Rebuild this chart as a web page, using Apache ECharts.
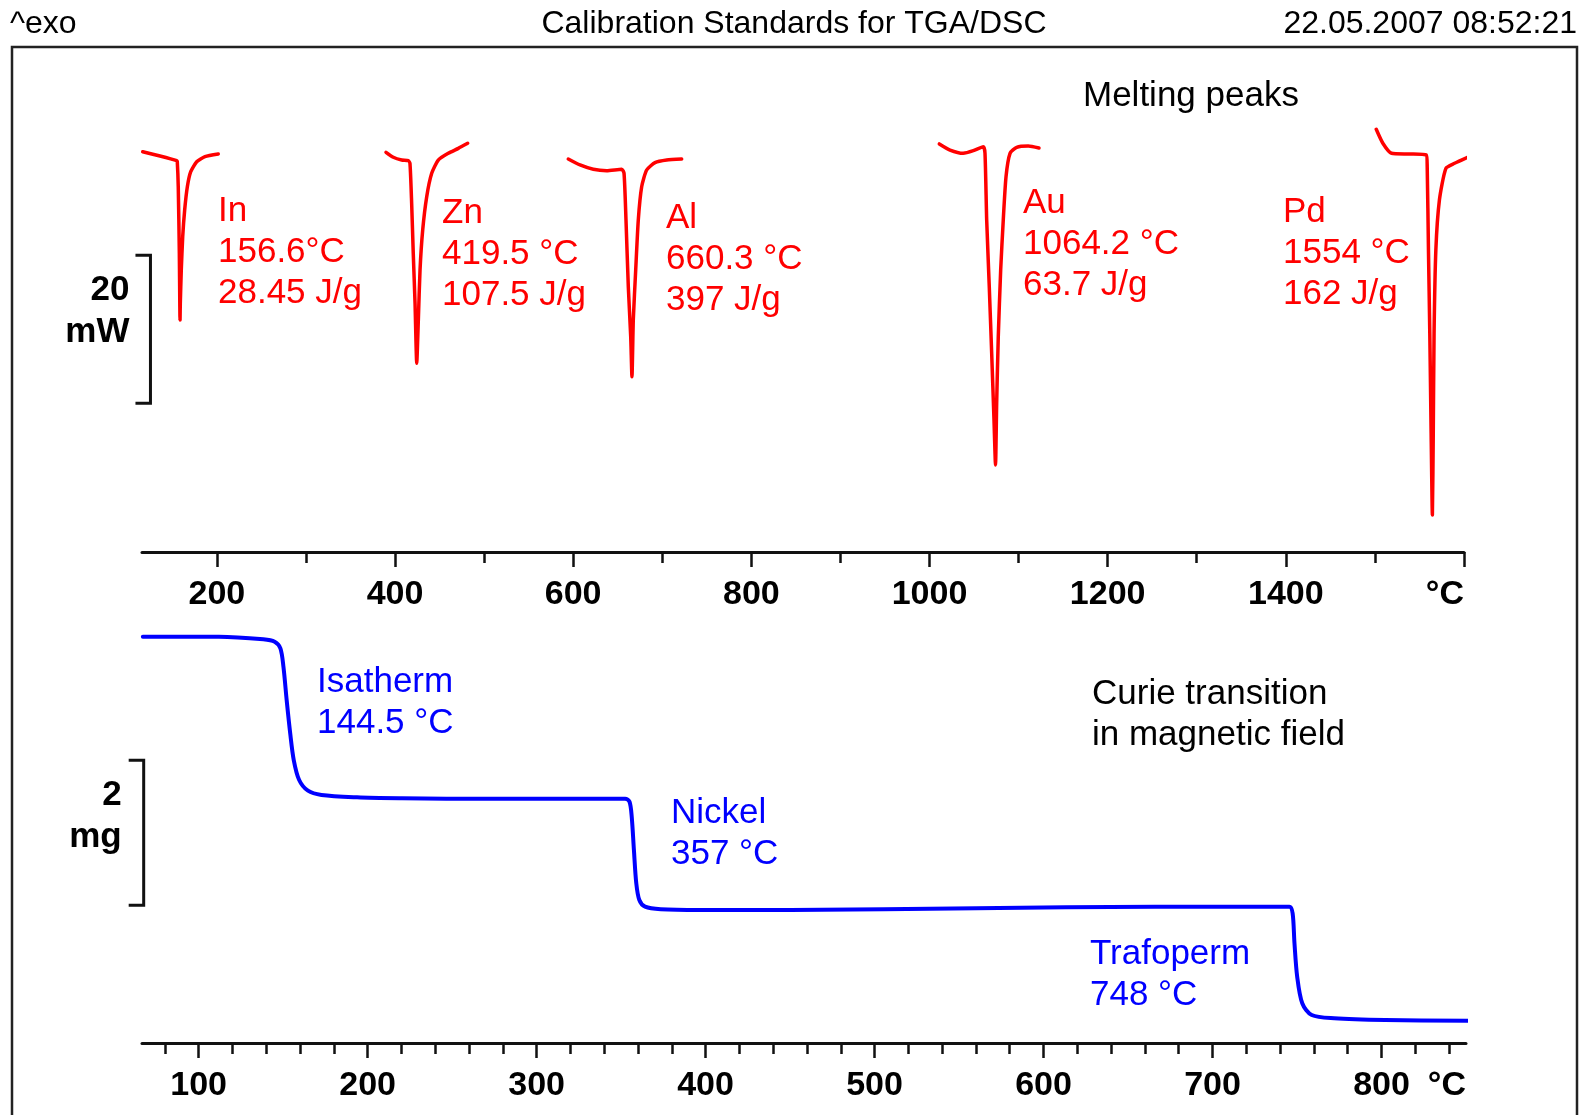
<!DOCTYPE html>
<html>
<head>
<meta charset="utf-8">
<title>Calibration Standards for TGA/DSC</title>
<script src="https://cdn.jsdelivr.net/npm/echarts@6/dist/echarts.min.js"></script>
<style>
  html, body { margin: 0; padding: 0; background: #fff; }
  #chart { width: 1582px; height: 1115px; }
</style>
</head>
<body>
<div id="chart"></div>
<script>
// ---- DSC melting peaks: [temperature °C, heat flow mW] ----
const dscIn = [[116.8,-5.91],[136.2,-6.49],[155.0,-7.12],[155.6,-7.26],[156.7,-10.64],[157.9,-19.59],[158.7,-28.65],[159.0,-26.4],[160.1,-21.9],[161.7,-17.39],[163.9,-13.78],[166.9,-10.64],[170.7,-8.61],[177.4,-7.26],[186.7,-6.58],[201.6,-6.22]];
const dscZn = [[389.9,-5.99],[398.1,-6.66],[407.5,-7.03],[414.9,-7.12],[416.8,-7.47],[418.7,-12.88],[420.5,-19.64],[422.5,-26.39],[424.4,-34.5],[426.2,-28.65],[428.1,-21.89],[431.1,-16.49],[435.6,-11.99],[441.2,-8.82],[448.6,-7.03],[459.8,-6.12],[471.1,-5.45],[481.6,-4.77]];
const dscAl = [[594.5,-6.89],[607.7,-7.70],[622.6,-8.28],[637.6,-8.47],[654.5,-8.28],[657.1,-8.82],[659.3,-15.14],[661.9,-24.15],[664.6,-30.91],[666.0,-36.31],[667.5,-28.65],[670.2,-21.89],[673.1,-15.14],[676.9,-10.64],[682.5,-8.38],[691.9,-7.39],[705.0,-7.03],[721.8,-6.89]];
const dscAu = [[1011.0,-4.86],[1023.0,-5.68],[1037.9,-6.12],[1049.2,-5.77],[1060.4,-5.23],[1062.3,-6.12],[1064.2,-15.14],[1067.1,-24.15],[1069.8,-33.15],[1072.4,-42.16],[1074.1,-48.24],[1075.4,-39.91],[1077.2,-30.91],[1079.9,-21.89],[1082.8,-15.14],[1085.9,-9.28],[1090.4,-6.12],[1097.9,-5.31],[1110.9,-5.14],[1122.9,-5.41]];
const dscPd = [[1501.5,-2.88],[1508.9,-4.77],[1518.6,-6.12],[1538.2,-6.22],[1557.7,-6.35],[1558.7,-7.93],[1560.1,-19.19],[1561.6,-30.45],[1563.1,-43.96],[1564.5,-55.0],[1565.5,-43.96],[1566.4,-30.45],[1568.4,-19.19],[1572.4,-12.43],[1579.7,-8.15],[1589.4,-7.47],[1604.0,-6.66]];

// ---- TGA Curie transitions: [temperature °C, mass mg] ----
const tgaMass = [[67.0,5.604],[112.0,5.604],[138.3,5.568],[145.0,5.535],[148.4,5.444],[150.2,5.190],[152.1,4.731],[154.2,4.272],[156.3,3.903],[159.5,3.628],[164.7,3.480],[172.7,3.421],[193.8,3.389],[220.3,3.375],[246.7,3.370],[299.5,3.370],[352.4,3.370],[355.0,3.328],[356.3,3.121],[357.6,2.662],[359.0,2.203],[360.8,1.972],[364.2,1.880],[373.5,1.844],[396.7,1.834],[450.5,1.834],[560.2,1.858],[666.0,1.880],[745.5,1.880],[747.4,1.789],[748.5,1.375],[750.1,0.915],[753.1,0.548],[758.7,0.386],[772.0,0.341],[802.2,0.317],[851.4,0.308]];

// ---- annotation texts ----
const peakNames = ['In', 'Zn', 'Al', 'Au', 'Pd'];
const peakOnsets = ['156.6°C', '419.5 °C', '660.3 °C', '1064.2 °C', '1554 °C'];
const peakEnthalpies = ['28.45 J/g', '107.5 J/g', '397 J/g', '63.7 J/g', '162 J/g'];
const curieNames = ['Isatherm', 'Nickel', 'Trafoperm'];
const curieTemps = ['144.5 °C', '357 °C', '748 °C'];

// ---- axis ticks ----
const dscMajorTicks = [200, 400, 600, 800, 1000, 1200, 1400, 1600];
const dscMinorTicks = [300, 500, 700, 900, 1100, 1300, 1500];
const dscTickLabels = [200, 400, 600, 800, 1000, 1200, 1400];
const tgaMajorTicks = [100, 200, 300, 400, 500, 600, 700, 800];
const tgaMinorTicks = [80, 120, 140, 160, 180, 220, 240, 260, 280, 320, 340, 360, 380, 420, 440, 460, 480, 520, 540, 560, 580, 620, 640, 660, 680, 720, 740, 760, 780, 820, 840];

// ---- scale bars: [x position °C, from, to] ----
const dscScaleBar = [125.5, -39.9, -19.9];   // 20 mW
const tgaScaleBar = [67.5, 1.9, 3.9];        // 2 mg

const FONT = '"Liberation Sans", Arial, Helvetica, sans-serif';
const RED = '#ff0000';
const BLUE = '#0000ff';
const INK = '#111111';

const chart = echarts.init(document.getElementById('chart'), null, { renderer: 'canvas' });

function majorAxis(gridIndex, min, max, ticks, labels) {
  return {
    type: 'value', gridIndex, min, max, position: 'bottom',
    axisLine: { show: true, onZero: false, lineStyle: { color: INK, width: 3 } },
    axisTick: { show: true, customValues: ticks, length: 15, lineStyle: { color: INK, width: 2.5 } },
    axisLabel: { show: true, customValues: labels, margin: 26, color: '#000',
      formatter: (v) => String(v),
      fontSize: 34, fontWeight: 'bold', fontFamily: FONT },
    splitLine: { show: false }
  };
}
function minorAxis(gridIndex, min, max, ticks, unitAt) {
  return {
    type: 'value', gridIndex, min, max, position: 'bottom', offset: 0,
    axisLine: { show: false, onZero: false },
    axisTick: { show: true, customValues: ticks, length: 11, lineStyle: { color: INK, width: 2.5 } },
    axisLabel: { show: true, customValues: [unitAt], formatter: () => '°C', align: 'right',
      margin: 26, color: '#000', fontSize: 34, fontWeight: 'bold', fontFamily: FONT },
    splitLine: { show: false }
  };
}

function scaleBar(xAxisIndex, yAxisIndex, bar, text, textDx) {
  return {
    type: 'custom', xAxisIndex, yAxisIndex, clip: false, silent: true, z: 5,
    data: [bar],
    renderItem(params, api) {
      const top = api.coord([api.value(0), api.value(2)]);
      const bot = api.coord([api.value(0), api.value(1)]);
      const serif = 15;
      return {
        type: 'group',
        children: [
          { type: 'polyline',
            shape: { points: [[top[0] - serif, top[1]], [top[0], top[1]], [bot[0], bot[1]], [bot[0] - serif, bot[1]]] },
            style: { stroke: INK, lineWidth: 3, fill: null, lineJoin: 'miter' } },
          { type: 'text', x: top[0] + textDx, y: top[1] + 14,
            style: { text, align: 'right', verticalAlign: 'top', lineHeight: 42,
              font: 'bold 35px ' + FONT, fill: '#000' } }
        ]
      };
    }
  };
}

function curve(data, color, width, xi, yi, smooth) {
  return {
    type: 'line', data, xAxisIndex: xi, yAxisIndex: yi, showSymbol: false, symbol: 'none',
    smooth, clip: false, silent: true,
    lineStyle: { color, width, cap: 'round', join: 'round' }
  };
}

// text placement (left x, top y of block)
const peakLabelPos = [[218, 191], [442, 193], [666, 198], [1023, 183], [1283, 192]];
const curieLabelPos = [[317, 662], [671, 793], [1090, 934]];

const graphics = [
  { type: 'rect', shape: { x: 12, y: 47, width: 1565, height: 1200 }, silent: true,
    style: { fill: null, stroke: '#222', lineWidth: 2.5 } },
  { type: 'text', x: 10, y: 24, silent: true,
    style: { text: '^exo', font: '32px ' + FONT, fill: '#000', verticalAlign: 'middle' } },
  { type: 'text', x: 794, y: 24, silent: true,
    style: { text: 'Calibration Standards for TGA/DSC', font: '32px ' + FONT, fill: '#000', align: 'center', verticalAlign: 'middle' } },
  { type: 'text', x: 1577, y: 24, silent: true,
    style: { text: '22.05.2007 08:52:21', font: '32px ' + FONT, fill: '#000', align: 'right', verticalAlign: 'middle' } },
  { type: 'text', x: 1083, y: 76, silent: true,
    style: { text: 'Melting peaks', font: '35px ' + FONT, fill: '#000', lineHeight: 41, verticalAlign: 'top' } },
  { type: 'text', x: 1092, y: 674, silent: true,
    style: { text: 'Curie transition\nin magnetic field', font: '35px ' + FONT, fill: '#000', lineHeight: 41, verticalAlign: 'top' } }
];
peakNames.forEach((name, i) => {
  graphics.push({ type: 'text', x: peakLabelPos[i][0], y: peakLabelPos[i][1], silent: true,
    style: { text: name + '\n' + peakOnsets[i] + '\n' + peakEnthalpies[i],
      font: '35px ' + FONT, fill: RED, lineHeight: 41, verticalAlign: 'top' } });
});
curieNames.forEach((name, i) => {
  graphics.push({ type: 'text', x: curieLabelPos[i][0], y: curieLabelPos[i][1], silent: true,
    style: { text: name + '\n' + curieTemps[i],
      font: '35px ' + FONT, fill: BLUE, lineHeight: 41, verticalAlign: 'top' } });
});

const option = {
  animation: false,
  backgroundColor: '#ffffff',
  textStyle: { fontFamily: FONT },
  grid: [
    { left: 142, right: 118, top: 108, height: 444 },
    { left: 142, right: 116, top: 608, height: 435 }
  ],
  xAxis: [
    majorAxis(0, 116, 1600, dscMajorTicks, dscTickLabels),
    minorAxis(0, 116, 1600, dscMinorTicks, 1600),
    majorAxis(1, 66.5, 850, tgaMajorTicks, tgaMajorTicks),
    minorAxis(1, 66.5, 850, tgaMinorTicks, 850)
  ],
  yAxis: [
    { type: 'value', gridIndex: 0, min: -60, max: 0, show: false },
    { type: 'value', gridIndex: 1, min: 0, max: 6, show: false }
  ],
  series: [
    curve(dscIn, RED, 3.5, 0, 0, 0.2),
    curve(dscZn, RED, 3.5, 0, 0, 0.2),
    curve(dscAl, RED, 3.5, 0, 0, 0.2),
    curve(dscAu, RED, 3.5, 0, 0, 0.2),
    curve(dscPd, RED, 3.5, 0, 0, 0.2),
    curve(tgaMass, BLUE, 4, 2, 1, 0.3),
    scaleBar(0, 0, dscScaleBar, '20\nmW', -21),
    scaleBar(2, 1, tgaScaleBar, '2\nmg', -22)
  ],
  graphic: graphics
};
chart.setOption(option);
</script>
</body>
</html>
